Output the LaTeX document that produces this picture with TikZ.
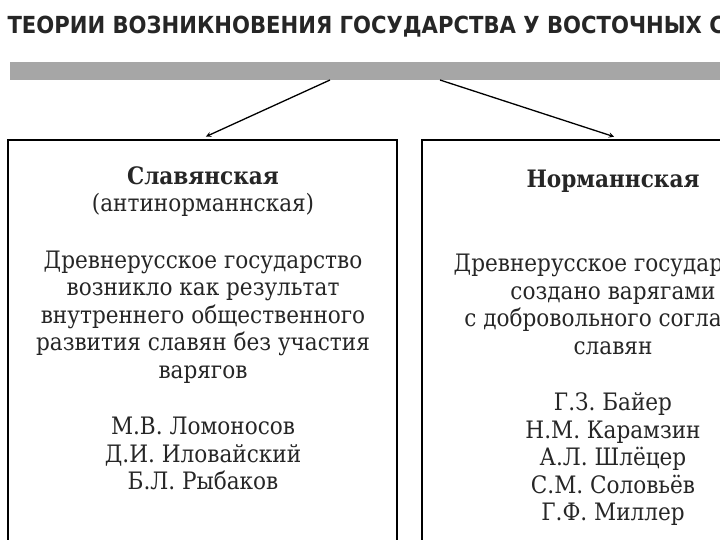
\documentclass[tikz,border=0pt]{standalone}
\usepackage{fontspec}
\setmainfont{DejaVu Serif Condensed}
\newfontfamily\titlefont{DejaVu Sans Condensed}
\usetikzlibrary{positioning,arrows}
\tikzset{
  box/.style={draw, line width=1.2pt},
  boxtext/.style={align=center, font=\fontsize{24}{27.5}\selectfont, text=black!85},
  link/.style={-stealth, line width=1.3pt, shorten >=1pt}
}
\begin{document}
\begin{tikzpicture}[x=1pt,y=1pt,>=latex]
\useasboundingbox (0,0) rectangle (720,-540);
\clip (0,0) rectangle (720,-540);
\node[anchor=west, font=\titlefont\bfseries\fontsize{23.5}{26}\selectfont, text=black!85] (title) at (4,-27)
  {ТЕОРИИ ВОЗНИКНОВЕНИЯ ГОСУДАРСТВА У ВОСТОЧНЫХ СЛАВЯН};
\fill[black!35] (10,-62) rectangle (740,-80);
\coordinate (barL) at (330,-80);
\coordinate (barR) at (440,-80);
% boxes
\draw[box] (8,-560) rectangle (397,-140);
\draw[box] (422,-560) rectangle (760,-140);
\coordinate (slav) at (205,-137);
\coordinate (norm) at (615,-137);
\draw[link] (barL) -- (slav);
\draw[link] (barR) -- (norm);
% left text
\node[boxtext, anchor=north] (slavtext) at (203,-163)
  {\textbf{Славянская}\\(антинорманнская)\\[29pt]
   Древнерусское государство\\возникло как результат\\внутреннего общественного\\развития славян без участия\\варягов\\[29pt]
   М.В. Ломоносов\\Д.И. Иловайский\\Б.Л. Рыбаков};
% right text
\node[boxtext, anchor=north] (normtext) at (613,-166)
  {\textbf{Норманнская}\\[57pt]
   Древнерусское государство\\создано варягами\\с добровольного согласия\\славян\\[29pt]
   Г.З. Байер\\Н.М. Карамзин\\А.Л. Шлёцер\\С.М. Соловьёв\\Г.Ф. Миллер};
\end{tikzpicture}
\end{document}
